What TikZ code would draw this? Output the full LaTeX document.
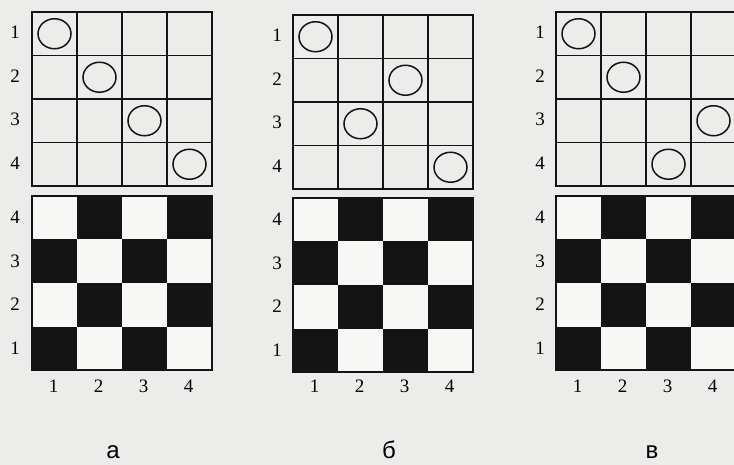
\documentclass[tikz,border=0pt]{standalone}
\usepackage{fontspec}
\setmainfont{Liberation Serif}
\newfontfamily\labfont{Liberation Sans}
\definecolor{paper}{RGB}{236,236,234}
\definecolor{cellw}{RGB}{247,247,245}
\definecolor{ink}{RGB}{20,20,20}

\begin{document}
\begin{tikzpicture}[x=1pt,y=-1pt,
  numlab/.style={font=\fontsize{19}{19}\selectfont,inner sep=0pt},
  panlab/.style={font=\labfont\fontsize{24}{24}\selectfont,anchor=base,inner sep=0pt},
  stone/.style={draw=ink,line width=1.5pt},
  thinline/.style={draw=ink,line width=1.1pt},
  frame/.style={draw=ink,line width=1.8pt}]
\fill[paper] (0,0) rectangle (734,465);
\clip (0,0) rectangle (734,465);
\foreach \n/\px/\ty/\by/\lx/\tx/\txt in {a/32/12/196/15/113/а,b/293/15/198/277/389/б,c/556/12/196/540/652/в}{
  % top grid
  \foreach \k in {1,2,3}{
    \draw[thinline] (\px+45*\k,\ty) -- ++(0,174);
    \draw[thinline] (\px,\ty+43.5*\k) -- ++(180,0);
  }
  \draw[frame] (\px,\ty) rectangle ++(180,174);
  % bottom grid, checkered
  \fill[cellw] (\px,\by) rectangle ++(180,174);
  \foreach \i in {0,...,3}{
    \foreach \j in {0,...,3}{
      \pgfmathtruncatemacro\odd{mod(\i+\j,2)}
      \ifnum\odd=1
        \fill[ink] (\px+45*\j,\by+43.5*\i) rectangle ++(45,43.5);
      \fi
    }
  }
  \draw[frame] (\px,\by) rectangle ++(180,174);
  % labels
  \foreach \k in {1,...,4}{
    \pgfmathtruncatemacro\rk{5-\k}
    \node[numlab] (top-\n-\k) at (\lx,\ty+43.5*\k-23) {\k};
    \node[numlab] (bot-\n-\rk) at (\lx,\by+43.5*\k-22) {\rk};
    \node[numlab] (col-\n-\k) at (\px+45*\k-23.5,386) {\k};
  }
  \node[panlab] (panel-\n) at (\tx,458) {\txt};
}
% circles: panel left, grid top, row, column
\foreach \px/\ty/\r/\c in {32/12/1/1,32/12/2/2,32/12/3/3,32/12/4/4,
  293/15/1/1,293/15/2/3,293/15/3/2,293/15/4/4,
  556/12/1/1,556/12/2/2,556/12/3/4,556/12/4/3}{
  \draw[stone] (\px+45*\c-22.5,\ty+43.5*\r-21.75) ellipse [x radius=16.5,y radius=15];
}
\end{tikzpicture}
\end{document}
